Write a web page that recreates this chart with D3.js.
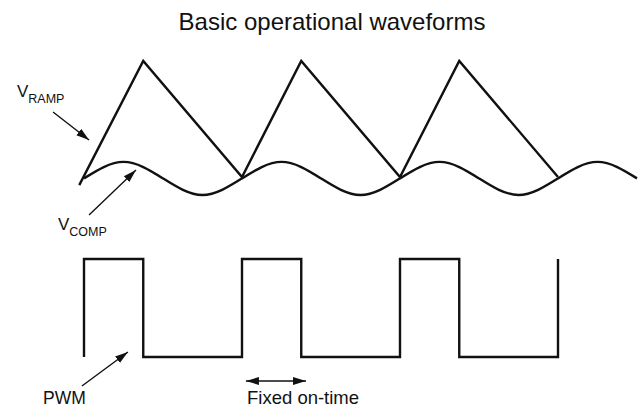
<!DOCTYPE html>
<html>
<head>
<meta charset="utf-8">
<script src="https://cdn.jsdelivr.net/npm/d3@7"></script>
<style>
  body { margin: 0; background: #fff; }
  svg text { font-family: "Liberation Sans", Arial, Helvetica, sans-serif; fill: #111; }
</style>
</head>
<body>
<svg id="chart" width="639" height="408"></svg>
<script>
// time in switching periods, levels are normalised (ramp valley 0, ramp peak 1)
var rampT = [-0.03, 0.375, 1, 1.375, 2, 2.375, 3];
var rampV = [-0.07, 1, 0, 1, 0, 1, 0];

var compT = [0, 0.25, 0.5, 0.75, 1, 1.25, 1.5, 1.75, 2, 2.25, 2.5, 2.75, 3, 3.25, 3.5];
var compV = [-0.012, 0.13, -0.012, -0.155, -0.012, 0.13, -0.012, -0.155, -0.012, 0.13, -0.012, -0.155, -0.012, 0.13, -0.012];

var pwmRise = [0, 1, 2, 3];
var pwmFall = [0.375, 1.375, 2.375];

var title = "Basic operational waveforms";

var svg = d3.select("#chart");

// scales
var x = d3.scaleLinear().domain([0, 3.5]).range([84, 637]);
var yTop = d3.scaleLinear().domain([0, 1]).range([177, 61]);
var yPwm = d3.scaleLinear().domain([0, 1]).range([357, 259]);

var line = d3.line()
    .x(function(d) { return x(d[0]); })
    .y(function(d) { return d[1]; });

// arrow heads
var defs = svg.append("defs");
defs.append("marker")
    .attr("id", "head")
    .attr("viewBox", "0 -5 13 10")
    .attr("refX", 13)
    .attr("refY", 0)
    .attr("markerUnits", "userSpaceOnUse")
    .attr("markerWidth", 13)
    .attr("markerHeight", 10)
    .attr("orient", "auto-start-reverse")
  .append("path")
    .attr("d", "M0,-4L13,0L0,4Z")
    .attr("fill", "#111");

// V ramp
var rampPts = rampT.map(function(t, i) { return [t, yTop(rampV[i])]; });
svg.append("path")
    .attr("d", line(rampPts))
    .attr("fill", "none")
    .attr("stroke", "#111")
    .attr("stroke-width", 2.4)
    .attr("stroke-linejoin", "miter");

// V comp
var compPts = compT.map(function(t, i) { return [t, yTop(compV[i])]; });
svg.append("path")
    .attr("d", line.curve(d3.curveNatural)(compPts))
    .attr("fill", "none")
    .attr("stroke", "#111")
    .attr("stroke-width", 2.4);
line.curve(d3.curveLinear);

// PWM square wave built from edges
var pwmPts = [];
var edges = pwmRise.map(function(t) { return [t, 1]; })
    .concat(pwmFall.map(function(t) { return [t, 0]; }))
    .sort(function(a, b) { return a[0] - b[0]; });
var level = 0;
edges.forEach(function(e) {
    pwmPts.push([e[0], yPwm(level)]);
    level = e[1];
    pwmPts.push([e[0], yPwm(level)]);
});
svg.append("path")
    .attr("d", line(pwmPts))
    .attr("fill", "none")
    .attr("stroke", "#111")
    .attr("stroke-width", 2.4)
    .attr("stroke-linejoin", "miter");

// pointer arrows (data units)
var arrows = [
    {from: [-0.196, yTop(0.56)], to: [0.032, yTop(0.319)]},
    {from: [0.032, yTop(-0.328)], to: [0.329, yTop(0.06)]},
    {from: [-0.013, yPwm(-0.296)], to: [0.278, yPwm(0.051)]}
];
svg.selectAll(".pointer")
    .data(arrows)
  .enter().append("line")
    .attr("class", "pointer")
    .attr("x1", function(d) { return x(d.from[0]); })
    .attr("y1", function(d) { return d.from[1]; })
    .attr("x2", function(d) { return x(d.to[0]); })
    .attr("y2", function(d) { return d.to[1]; })
    .attr("stroke", "#111")
    .attr("stroke-width", 1.4)
    .attr("marker-end", "url(#head)");

// fixed on-time span
svg.append("line")
    .attr("x1", x(1.025)).attr("x2", x(1.405))
    .attr("y1", 381).attr("y2", 381)
    .attr("stroke", "#111")
    .attr("stroke-width", 1.6)
    .attr("marker-start", "url(#head)")
    .attr("marker-end", "url(#head)");

// text
svg.append("text")
    .attr("x", 332).attr("y", 30)
    .attr("text-anchor", "middle")
    .style("font-size", "24px")
    .text(title);

function subLabel(px, py, main, sub) {
    var t = svg.append("text").attr("x", px).attr("y", py).style("font-size", "17px");
    t.append("tspan").text(main);
    t.append("tspan").attr("dy", 6).style("font-size", "12.5px").text(sub);
}
subLabel(17, 97, "V", "RAMP");
subLabel(58, 230, "V", "COMP");

svg.append("text")
    .attr("x", 43).attr("y", 404)
    .style("font-size", "17.5px")
    .text("PWM");

svg.append("text")
    .attr("x", 247).attr("y", 404)
    .style("font-size", "18.5px")
    .text("Fixed on-time");
</script>
</body>
</html>
